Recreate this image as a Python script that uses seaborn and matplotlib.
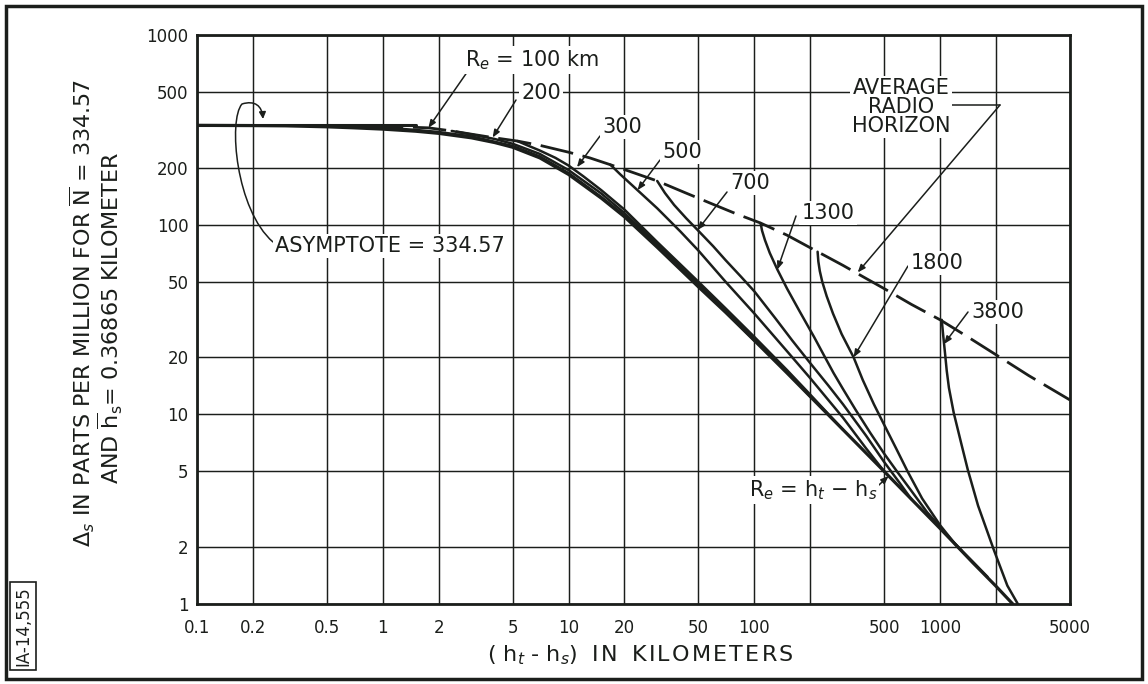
import numpy as np
import pandas as pd
import matplotlib
matplotlib.use("Agg")
import matplotlib.pyplot as plt
from matplotlib.path import Path
from matplotlib.patches import FancyArrowPatch, Rectangle
import seaborn as sns

# ---- data: Delta_s (ppm) versus height difference ht - hs (km) ----
ASYMPTOTE = 334.57
asym_h = [0.1, 1.5]
asym_d = [ASYMPTOTE, ASYMPTOTE]

# vertical-ray limit, Re = ht - hs
env_h = [0.1, 0.2, 0.3, 0.5, 0.7, 1, 1.5, 2, 3, 4, 5, 7, 10, 15, 20, 30, 50,
         70, 100, 150, 200, 300, 500, 700, 1000, 1500, 2000, 2460]
env_d = [334, 333, 332, 328, 324, 319, 311, 303, 287, 271, 256, 225, 184, 138,
         110, 76, 47, 34.5, 24.5, 16.5, 12.4, 8.3, 5.0, 3.57, 2.5, 1.65, 1.24,
         1.0]

# average radio horizon (dashed)
hor_h = [0.5, 0.75, 1, 1.3, 1.76, 2.35, 3, 3.9, 5.3, 7, 10, 13, 16.8, 22, 30,
         42, 60, 80, 108, 150, 219, 300, 400, 500, 700, 1000, 1400, 2000,
         3000, 5000]
hor_d = [334, 332, 330, 327.5, 324, 312, 300, 288, 276, 262, 241, 225, 207,
         189, 170, 148, 128, 114, 102, 88, 72, 61, 52, 46, 38, 31.5, 25.7,
         20.6, 16, 11.9]

# curves of constant Re (km)
re100_h = [0.59, 1, 1.5, 2, 3, 5, 7, 10, 15, 20, 30, 50, 70, 100]
re100_d = [333, 325, 316, 308, 292, 260, 229, 187, 140, 111.5, 77, 47.5,
           34.8, 24.5]
re200_h = [2.35, 3, 4, 5, 7, 10, 15, 20, 30, 50, 70, 100, 150, 200]
re200_d = [312, 299, 283, 267, 236, 194, 146, 115, 79, 48.5, 35.2, 25, 16.8,
           12.4]
re300_h = [5.3, 6, 7, 8.5, 10, 12, 15, 20, 30, 50, 70, 100, 150, 200, 300]
re300_d = [276, 262, 246, 225, 205, 180, 152, 120, 81, 50, 36.2, 25.6, 17.1,
           12.7, 8.3]
re500_h = [16.8, 19, 23.5, 30, 40, 50, 70, 100, 150, 200, 300, 400, 500]
re500_d = [207, 184, 152, 122, 92, 73, 50, 34, 21.5, 15.5, 9.6, 6.6, 5.0]
re700_h = [30, 33, 37, 43, 49.5, 60, 70, 85, 100, 130, 160, 200, 250, 300,
           400, 500, 600, 700]
re700_d = [170, 147, 127, 108, 93.7, 77, 65, 53, 44.5, 32, 24.5, 18.6, 14.2,
           11.3, 7.7, 5.6, 4.4, 3.57]
re1300_h = [108, 110, 114, 121, 133, 150, 175, 210, 240, 267, 300, 350, 420,
            500, 590, 700, 850, 1000, 1150, 1300]
re1300_d = [102, 93, 83, 71, 58, 46, 35, 25.5, 20, 16.5, 13.6, 10.6, 8.0,
            6.2, 4.95, 3.95, 3.05, 2.55, 2.18, 1.92]
re1800_h = [219, 221, 225, 232, 245, 265, 295, 342, 383, 440, 500, 580, 668,
            800, 1000, 1200, 1500, 1800]
re1800_d = [72, 64, 57, 50, 42, 34, 26.5, 20, 15.2, 11.3, 8.8, 6.6, 5.0, 3.6,
            2.6, 2.08, 1.67, 1.39]
re3800_h = [1020, 1035, 1050, 1065, 1085, 1115, 1183, 1300, 1409, 1600, 1945,
            2300, 2620]
re3800_d = [31.5, 27, 23.5, 20.5, 17, 13.8, 10.2, 7, 5.1, 3.3, 1.93, 1.25,
            1.0]

x_ticks = [0.1, 0.2, 0.5, 1, 2, 5, 10, 20, 50, 100, 200, 500, 1000, 2000, 5000]
x_labels = ["0.1", "0.2", "0.5", "1", "2", "5", "10", "20", "50", "100", "",
            "500", "1000", "", "5000"]
y_ticks = [1, 2, 5, 10, 20, 50, 100, 200, 500, 1000]
y_labels = ["1", "2", "5", "10", "20", "50", "100", "200", "500", "1000"]

INK = "#1b1e1b"

sns.set_style("white")
plt.rcParams["font.family"] = ["DejaVu Sans"]
plt.rcParams["mathtext.fontset"] = "dejavusans"

W, H = 1148, 684
fig = plt.figure(figsize=(W / 100, H / 100), dpi=100)
L, R, T, B = 197, 1070, 35, 604
ax = fig.add_axes([L / W, (H - B) / H, (R - L) / W, (B - T) / H])
ax.set_xscale("log")
ax.set_yscale("log")


def curve(h, d, **kw):
    df = pd.DataFrame({"h": h, "d": d})
    sns.lineplot(data=df, x="h", y="d", ax=ax, sort=False, color=INK,
                 estimator=None, solid_joinstyle="round", **kw)


curve(asym_h, asym_d, lw=2.2)
curve(env_h, env_d, lw=2.3)
for h, d in [(re100_h, re100_d), (re200_h, re200_d), (re300_h, re300_d),
             (re500_h, re500_d), (re700_h, re700_d), (re1300_h, re1300_d),
             (re1800_h, re1800_d), (re3800_h, re3800_d)]:
    curve(h, d, lw=1.8)
curve(hor_h, hor_d, lw=2.0, linestyle=(0, (12, 3.5)))

ax.set_xlim(0.1, 5000)
ax.set_ylim(1, 1000)
ax.set_xticks(x_ticks)
ax.set_xticklabels(x_labels)
ax.set_yticks(y_ticks)
ax.set_yticklabels(y_labels)
ax.minorticks_off()
ax.tick_params(length=0, labelsize=12, colors=INK)
ax.tick_params(axis="x", pad=11)
ax.tick_params(axis="y", pad=6)
ax.grid(True, color=INK, lw=1.05)
for s in ax.spines.values():
    s.set_color(INK)
    s.set_linewidth(2.0)
ax.set_xlabel("")
ax.set_ylabel("")


def afrac(px, py):
    return ((px - L) / (R - L), (B - py) / (B - T))


def fig_frac(px, py):
    return (px / W, (H - py) / H)


def spaced(s):
    # hand-lettered look: a hair space between capitals
    return "\u200a".join(s)


box = dict(fc="white", ec="none", pad=1.5)
lab = dict(fontsize=15, color=INK, ha="center", va="center", bbox=box,
           zorder=6)
arr = dict(arrowstyle="-|>,head_length=0.45,head_width=0.18", color=INK,
           lw=1.1, shrinkA=0, shrinkB=0)

labels = [
    ("R$_e$ = 100 km", (532, 60), (1.76, 324), (470, 68)),
    ("200", (541, 93), (3.9, 288), (516, 100)),
    ("300", (622, 127), (11.1, 201), (600, 136)),
    ("500", (682, 152), (23.5, 152), (660, 160)),
    ("700", (750, 183), (49.5, 93.7), (727, 192)),
    ("1300", (828, 213), (133, 58), (796, 216)),
    ("1800", (937, 263), (342, 20), (908, 266)),
    ("3800", (998, 312), (1050, 23.5), (968, 312)),
]
for text, tpos, tip, tail in labels:
    ax.text(*afrac(*tpos), text, transform=ax.transAxes, **lab)
    ax.annotate("", xy=tip, xycoords="data", xytext=afrac(*tail),
                textcoords="axes fraction", arrowprops=arr, zorder=5)

ax.text(*afrac(813, 490), "R$_e$ = h$_t$ − h$_s$", transform=ax.transAxes,
        **lab)
ax.annotate("", xy=(528, 4.73), xycoords="data", xytext=afrac(866, 497),
            textcoords="axes fraction", arrowprops=arr, zorder=5)

ax.text(*afrac(901, 107), "AVERAGE\nRADIO\nHORIZON", transform=ax.transAxes,
        linespacing=0.95, **lab)
corner = afrac(1000, 105)
ax.plot([afrac(946, 105)[0], corner[0]], [corner[1], corner[1]],
        transform=ax.transAxes, color=INK, lw=1.1, zorder=5)
ax.annotate("", xy=(360, 56), xycoords="data", xytext=corner,
            textcoords="axes fraction", arrowprops=arr, zorder=5)

ax.text(*afrac(390, 246), "ASYMPTOTE = 334.57", transform=ax.transAxes,
        **lab)
loop = [afrac(273, 242), afrac(236, 210), afrac(228, 120), afrac(242, 104),
        afrac(255, 100), afrac(262, 106), afrac(263, 119)]
codes = [Path.MOVETO, Path.CURVE4, Path.CURVE4, Path.CURVE4,
         Path.CURVE4, Path.CURVE4, Path.CURVE4]
ax.add_patch(FancyArrowPatch(path=Path(loop, codes), transform=ax.transAxes,
                             arrowstyle="-|>,head_length=4,head_width=2",
                             color=INK, lw=1.1, zorder=5))

# axis titles
fig.text(*fig_frac(640, 655),
         "( h$_t$ - h$_s$)  " + spaced("IN") + "  " + spaced("KILOMETERS"),
         fontsize=16, color=INK, ha="center", va="center")
fig.text(*fig_frac(82, 313), "Δ$_s$ IN PARTS PER MILLION FOR "
         "$\\overline{\\mathrm{N}}$ = 334.57", fontsize=16, color=INK,
         rotation=90, ha="center", va="center")
fig.text(*fig_frac(110, 318), "AND $\\overline{\\mathrm{h}}_\\mathrm{s}$"
         "= 0.36865 KILOMETER", fontsize=16, color=INK, rotation=90,
         ha="center", va="center")

# page frame and drawing number
fig.patches.append(Rectangle(fig_frac(6, 679), 1136 / W, 673 / H,
                             transform=fig.transFigure, fill=False,
                             ec=INK, lw=2.5))
fig.text(*fig_frac(23, 626), "IA-14,555", fontsize=12, color=INK,
         rotation=90, ha="center", va="center",
         bbox=dict(fc="white", ec=INK, lw=1.2, pad=3))

fig.savefig("out.png", dpi=100, facecolor="white")
